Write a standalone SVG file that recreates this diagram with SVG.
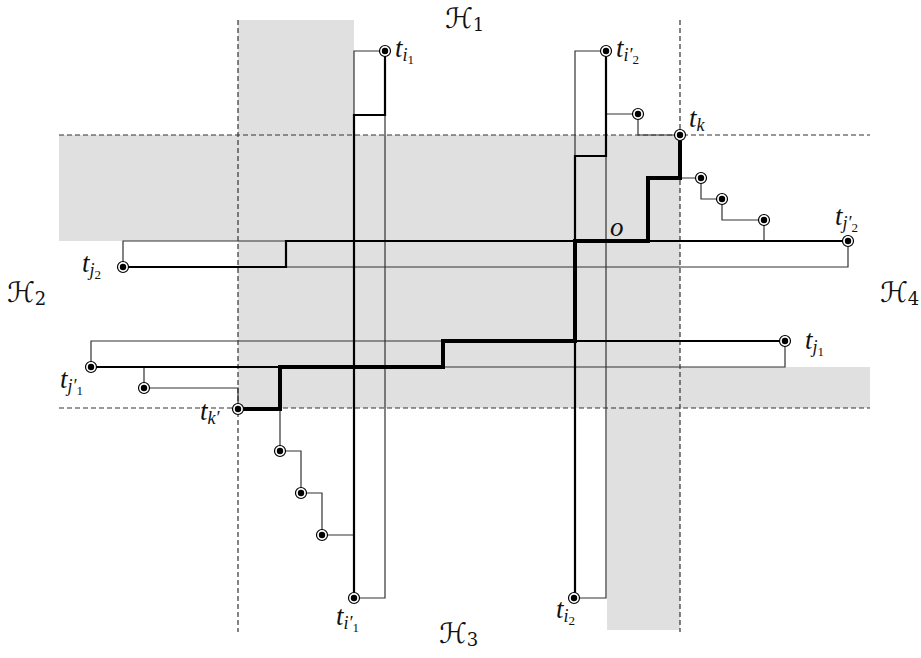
<svg xmlns="http://www.w3.org/2000/svg" width="921" height="658" viewBox="0 0 921 658">
<style>
.reg{fill:#e0e0e0;stroke:none}
.dash{stroke:#333;stroke-width:1.2;stroke-dasharray:5,3;fill:none}
.thin{stroke:#333;stroke-width:1.2;fill:none}
.med{stroke:#000;stroke-width:2.2;fill:none}
.thick{stroke:#000;stroke-width:4;fill:none;stroke-linejoin:miter}
.lab{font-family:"Liberation Serif","DejaVu Serif",serif;font-style:italic;font-size:27px;fill:#111}
.sub{font-size:18px}
.ss{font-size:13px;font-style:normal}
.cal{font-family:"DejaVu Serif","DejaVu Sans",serif;font-size:28px;fill:#111}
.calsub{font-size:18px}
</style>
<defs>
<g id="term"><circle r="5.5" fill="#fff" stroke="#000" stroke-width="1.2"/><circle r="3.2" fill="#000"/></g>
</defs>
<g id="regions">
<rect class="reg" x="238" y="20" width="116" height="115"/>
<rect class="reg" x="59" y="135" width="621" height="106"/>
<rect class="reg" x="238" y="241" width="442" height="167"/>
<rect class="reg" x="680" y="367" width="190" height="41"/>
<rect class="reg" x="607" y="408" width="73" height="222"/>
</g>
<g id="hyperplanes">
<path class="dash" d="M238,20 V632 M680,20 V632 M59,135 H870 M59,408 H870"/>
</g>
<g id="connectors">
<path class="thin" d="M385,51 H354 V115 M385,115 V598 H354"/>
<path class="thin" d="M606,51 H575 V156 M606,156 V598 H574"/>
<path class="thin" d="M123,267 V241 H286 M286,267 H848 V241"/>
<path class="thin" d="M91,367 V341 H443 M443,367 H785 V341"/>
<path class="thin" d="M144,367 V388 H238 V409"/>
<path class="thin" d="M606,114 H638 V135 H680"/>
<path class="thin" d="M680,178 H701 V199 H722 V220 H764 V241"/>
<path class="thin" d="M280,409 V451 H301 V493 H322 V535 H354"/>
<path class="med" d="M385,51 V115 H354 V598"/>
<path class="med" d="M606,51 V156 H575 V598"/>
<path class="med" d="M123,267 H286 V241 H848"/>
<path class="med" d="M91,367 H443 V341 H785"/>
<path class="thick" d="M680,135 V178 H648 V241 H575 V341 H443 V367 H280 V409 H238"/>
</g>
<g id="t_i1"><use href="#term" x="385" y="51"/><text class="lab" x="395" y="57">t<tspan class="sub" dy="4">i</tspan><tspan class="ss" dy="3">1</tspan></text></g>
<g id="t_i2p"><use href="#term" x="606" y="51"/><text class="lab" x="616" y="57">t<tspan class="sub" dy="4">i′</tspan><tspan class="ss" dy="3">2</tspan></text></g>
<g id="t_s1"><use href="#term" x="638" y="114"/></g>
<g id="t_k"><use href="#term" x="680" y="135"/><text class="lab" x="689" y="127">t<tspan class="sub" dy="4">k</tspan></text></g>
<g id="t_s2"><use href="#term" x="701" y="178"/></g>
<g id="t_s3"><use href="#term" x="722" y="199"/></g>
<g id="t_s4"><use href="#term" x="764" y="220"/></g>
<g id="t_j2p"><use href="#term" x="848" y="241"/><text class="lab" x="835" y="225">t<tspan class="sub" dy="4">j′</tspan><tspan class="ss" dy="3">2</tspan></text></g>
<g id="o"><text class="lab" x="610" y="236">o</text></g>
<g id="t_j2"><use href="#term" x="123" y="267"/><text class="lab" x="82" y="272">t<tspan class="sub" dy="4">j</tspan><tspan class="ss" dy="3">2</tspan></text></g>
<g id="t_j1p"><use href="#term" x="91" y="367"/><text class="lab" x="60" y="388">t<tspan class="sub" dy="4">j′</tspan><tspan class="ss" dy="3">1</tspan></text></g>
<g id="t_s5"><use href="#term" x="144" y="388"/></g>
<g id="t_j1"><use href="#term" x="785" y="341"/><text class="lab" x="805" y="349">t<tspan class="sub" dy="4">j</tspan><tspan class="ss" dy="3">1</tspan></text></g>
<g id="t_kp"><use href="#term" x="238" y="409"/><text class="lab" x="200" y="420">t<tspan class="sub" dy="4">k′</tspan></text></g>
<g id="t_s6"><use href="#term" x="280" y="451"/></g>
<g id="t_s7"><use href="#term" x="301" y="493"/></g>
<g id="t_s8"><use href="#term" x="322" y="535"/></g>
<g id="t_i1p"><use href="#term" x="354" y="598"/><text class="lab" x="336" y="625">t<tspan class="sub" dy="4">i′</tspan><tspan class="ss" dy="3">1</tspan></text></g>
<g id="t_i2"><use href="#term" x="574" y="598"/><text class="lab" x="556" y="618">t<tspan class="sub" dy="4">i</tspan><tspan class="ss" dy="3">2</tspan></text></g>
<g id="H1"><text class="cal" x="445" y="28">ℋ<tspan class="calsub" dy="3">1</tspan></text></g>
<g id="H2"><text class="cal" x="7" y="302">ℋ<tspan class="calsub" dy="3">2</tspan></text></g>
<g id="H3"><text class="cal" x="439" y="643">ℋ<tspan class="calsub" dy="3">3</tspan></text></g>
<g id="H4"><text class="cal" x="880" y="302">ℋ<tspan class="calsub" dy="3">4</tspan></text></g>
</svg>
